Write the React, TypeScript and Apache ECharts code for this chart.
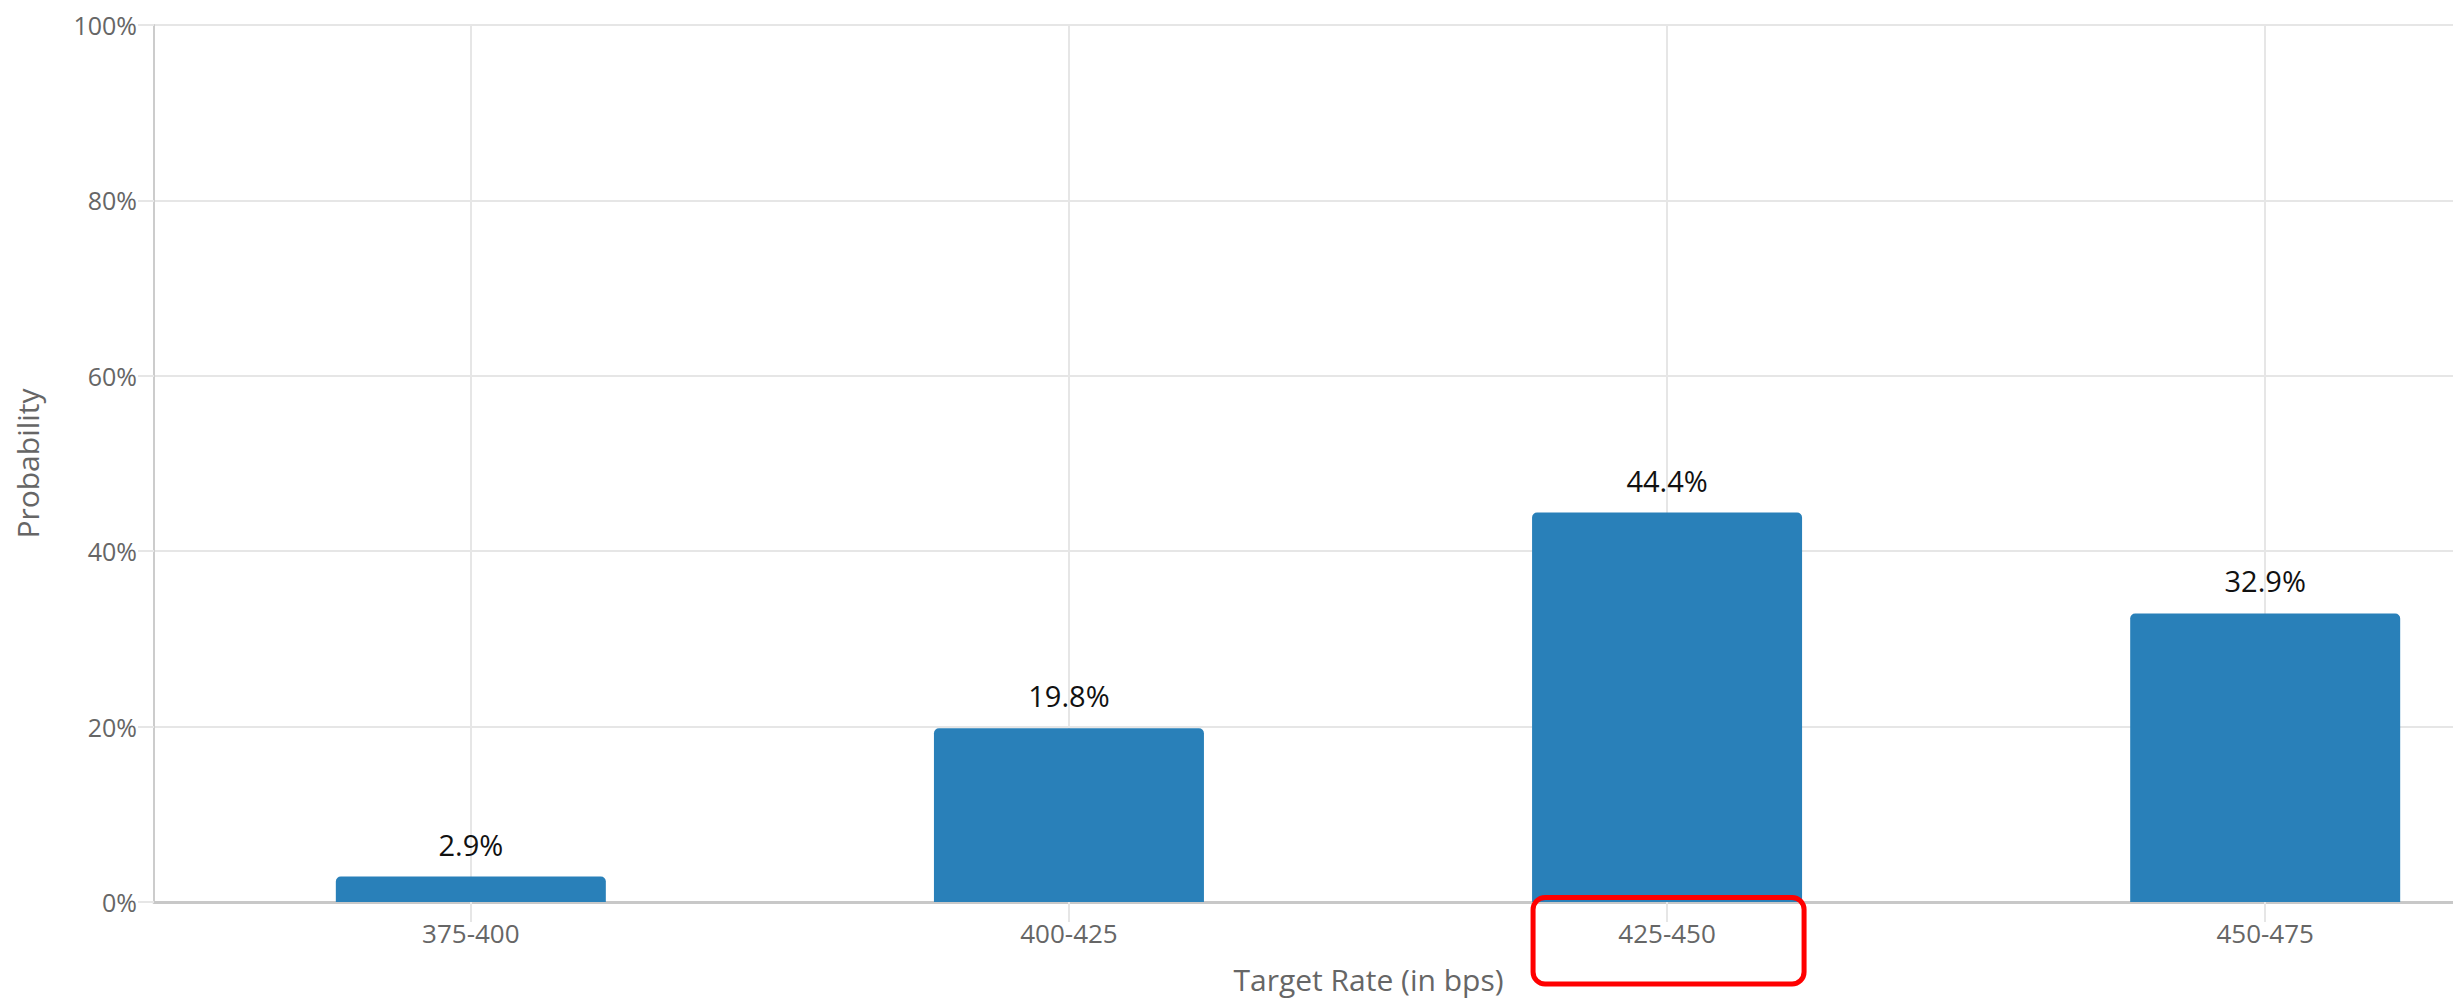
import React, { useEffect, useRef } from "react";
import * as echarts from "echarts";

const categories = ["375-400", "400-425", "425-450", "450-475"];
const probabilities = [2.9, 19.8, 44.4, 32.9];
const yTicks = [0, 20, 40, 60, 80, 100];
const highlightIndex = 2;

const FONT = "'Open Sans', 'Noto Sans', sans-serif";

export default function App() {
  const ref = useRef<HTMLDivElement>(null);

  useEffect(() => {
    if (!ref.current) return;
    const chart = echarts.init(ref.current, undefined, { renderer: "svg" });
    const idx = categories.map((_, i) => i);
    chart.setOption({
      animation: false,
      backgroundColor: "#ffffff",
      textStyle: { fontFamily: FONT },
      grid: { left: 154, top: 25, bottom: 97, right: 0, containLabel: false },
      xAxis: {
        type: "value",
        min: -0.5297,
        max: 3.314,
        name: "Target Rate (in bps)",
        nameLocation: "middle",
        nameGap: 62,
        nameTextStyle: {
          color: "#666666",
          fontSize: 30,
          fontFamily: FONT,
          padding: [0, 0, 0, 130],
        },
        axisLine: { show: true, onZero: false, lineStyle: { color: "#c8c8c8", width: 3 } },
        axisTick: {
          show: true,
          customValues: idx,
          length: 20,
          lineStyle: { color: "#e6e6e6", width: 2 },
        },
        axisLabel: {
          customValues: idx,
          margin: 18,
          color: "#666666",
          fontSize: 26,
          fontFamily: FONT,
          formatter: (v: number) => categories[Math.round(v)] ?? "",
        },
        splitLine: { show: true, lineStyle: { color: "#e6e6e6", width: 2 } },
      },
      yAxis: {
        type: "value",
        min: yTicks[0],
        max: yTicks[yTicks.length - 1],
        interval: 20,
        name: "Probability",
        nameLocation: "middle",
        nameGap: 112,
        nameTextStyle: { color: "#666666", fontSize: 30, fontFamily: FONT },
        axisLine: { show: true, onZero: false, lineStyle: { color: "#cccccc", width: 2 } },
        axisTick: { show: true, length: 16, lineStyle: { color: "#e6e6e6", width: 2 } },
        axisLabel: {
          margin: 17,
          color: "#666666",
          fontSize: 25,
          fontFamily: FONT,
          formatter: "{value}%",
        },
        splitLine: { show: true, lineStyle: { color: "#e6e6e6", width: 2 } },
      },
      series: [
        {
          type: "bar",
          data: probabilities.map((p, i) => [i, p]),
          barWidth: 270,
          itemStyle: { color: "#2980b9", borderRadius: [5, 5, 0, 0] },
          label: {
            show: true,
            position: "top",
            distance: 18,
            color: "#111111",
            fontSize: 29,
            fontFamily: FONT,
            formatter: (p: any) => `${p.value[1]}%`,
          },
        },
      ],
    });

    const cx = chart.convertToPixel({ xAxisIndex: 0 }, highlightIndex) as number;
    const y0 = chart.convertToPixel({ yAxisIndex: 0 }, 0) as number;
    chart.setOption({
      graphic: [
        {
          type: "rect",
          z: 100,
          shape: { x: cx - 134, y: y0 - 4.5, width: 271, height: 86.5, r: 12 },
          style: { fill: "none", stroke: "#ff0000", lineWidth: 5 },
        },
      ],
    });

    return () => chart.dispose();
  }, []);

  return (
    <div
      ref={ref}
      style={{ position: "fixed", left: 0, top: 0, width: 2453, height: 999, background: "#fff" }}
    />
  );
}
